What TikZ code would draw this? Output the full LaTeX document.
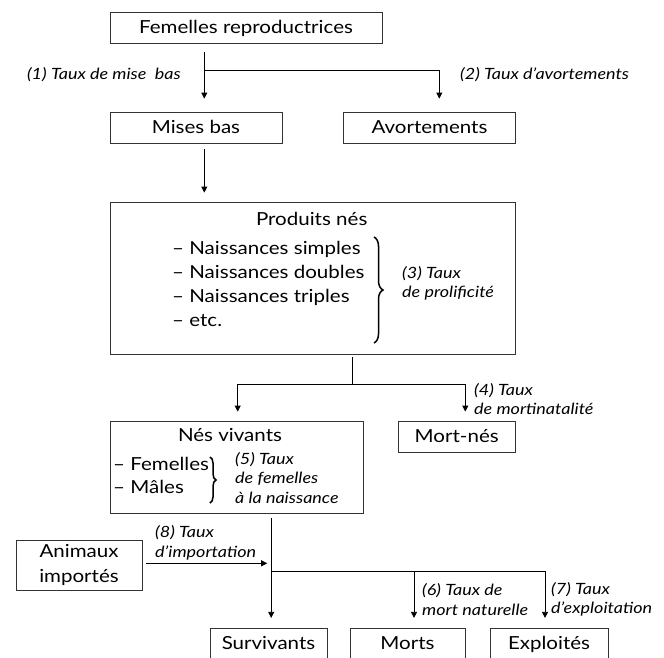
\documentclass[tikz,border=0pt]{standalone}
\usepackage{fontspec}
\setmainfont{Lato}[FakeStretch=1.14]
\newfontfamily\labfont{Lato}[FakeStretch=1.16]
\usetikzlibrary{arrows.meta,decorations.pathreplacing}
\begin{document}
\begin{tikzpicture}[x=1pt,y=-1pt,
  box/.style={draw=black!80, line width=0.8pt, inner sep=0pt, font=\fontsize{18}{25}\selectfont},
  one/.style={text height=14pt, text depth=2pt},
  txt/.style={inner sep=0pt, font=\fontsize{18}{22}\selectfont},
  lab/.style={inner sep=0pt, align=left, font=\fontsize{15.5}{19.5}\selectfont\labfont\itshape},
  ln/.style={line width=0.8pt},
  arr/.style={line width=0.8pt, -{Triangle[length=6pt,width=6pt]}},
  br/.style={decorate, decoration={brace, amplitude=#1}, line width=1.5pt}
]
\useasboundingbox (0,0) rectangle (664,657);
% boxes
\node[box, one, minimum width=272pt, minimum height=31pt] (fem) at (246,27.5) {Femelles reproductrices};
\node[box, one, minimum width=172pt, minimum height=31pt] (mises) at (196,127.5) {Mises bas};
\node[box, one, minimum width=171.5pt, minimum height=31pt] (avort) at (429.5,127.5) {Avortements};
\node[box, minimum width=405pt, minimum height=152pt] (prod) at (312.5,278) {};
\node[txt, anchor=base] (prodt) at (311.7,225) {Produits nés};
\node[txt, anchor=base west] (n1) at (172,254) {– Naissances simples};
\node[txt, anchor=base west] (n2) at (172,278) {– Naissances doubles};
\node[txt, anchor=base west] (n3) at (172,302) {– Naissances triples};
\node[txt, anchor=base west] (n4) at (172,326) {– etc.};
\node[box, minimum width=253.5pt, minimum height=92pt] (nes) at (236.8,467) {};
\node[txt, anchor=base] (nest) at (230,441.5) {Nés vivants};
\node[txt, anchor=base west] (f1) at (113,470) {– Femelles};
\node[txt, anchor=base west] (f2) at (113,493.5) {– Mâles};
\node[box, one, minimum width=116.5pt, minimum height=31pt] (mortnes) at (456.7,436.5) {Mort-nés};
\node[box, minimum width=126pt, minimum height=50.7pt, align=center] (anim) at (79,565.3) {Animaux\\importés};
\node[box, one, minimum width=117pt, minimum height=31pt] (surv) at (268.5,643.8) {Survivants};
\node[box, one, minimum width=115pt, minimum height=31pt] (morts) at (407.5,643.8) {Morts};
\node[box, one, minimum width=118pt, minimum height=31pt] (expl) at (549,643.8) {Exploités};
% labels
\node[lab, anchor=east] (t1) at (181,75) {(1) Taux de mise\ \ bas};
\node[lab, anchor=west] (t2) at (460,75) {(2) Taux d’avortements};
\node[lab, anchor=west] (t3) at (402,283.5) {(3) Taux\\de prolificité};
\node[lab, anchor=west] (t4) at (474,399) {(4) Taux\\de mortinatalité};
\node[lab, anchor=west] (t5) at (235,477.7) {(5) Taux\\de femelles\\à la naissance};
\node[lab, anchor=west] (t6) at (422,599.5) {(6) Taux de\\mort naturelle};
\node[lab, anchor=west] (t7) at (551,599.5) {(7) Taux\\d’exploitation};
\node[lab, anchor=west] (t8) at (155,543) {(8) Taux\\d’importation};
% junctions
\coordinate (J1) at (204.3,70.7);
\coordinate (B1) at (439.3,70.7);
\coordinate (J2) at (352,384);
\coordinate (L2) at (237.7,384);
\coordinate (R2) at (465.3,384);
\coordinate (J3) at (271.2,571.7);
\coordinate (M3) at (414,571.7);
\coordinate (R3) at (545,571.7);
\coordinate (I1) at (271.2,563.3);
% connectors
\draw[arr, shorten <=9pt, shorten >=13pt] (fem.south -| J1) -- (mises.north -| J1);
\draw[arr, shorten >=13pt] (J1) -- (B1) -- (avort.north -| B1);
\draw[arr, shorten <=6pt, shorten >=9pt] (mises.south -| J1) -- (prod.north -| J1);
\draw[ln, shorten <=3pt] (prod.south -| J2) -- (J2);
\draw[arr, shorten >=9pt] (J2) -- (L2) -- (nes.north -| L2);
\draw[arr, shorten >=9pt] (J2) -- (R2) -- (mortnes.north -| R2);
\draw[arr, shorten <=5pt, shorten >=10pt] (nes.south -| J3) -- (surv.north -| J3);
\draw[ln] (J3) -- (M3);
\draw[arr, shorten >=10pt] (M3) -- (R3) -- (expl.north -| R3);
\draw[arr, shorten >=10pt] (M3) -- (morts.north -| M3);
\draw[arr, shorten <=4pt, shorten >=4pt] (anim.east |- I1) -- (I1);
% braces
\draw[br=9pt] (374,237) -- (374,343);
\draw[br=6pt] (210,457) -- (210,503);
\end{tikzpicture}
\end{document}
